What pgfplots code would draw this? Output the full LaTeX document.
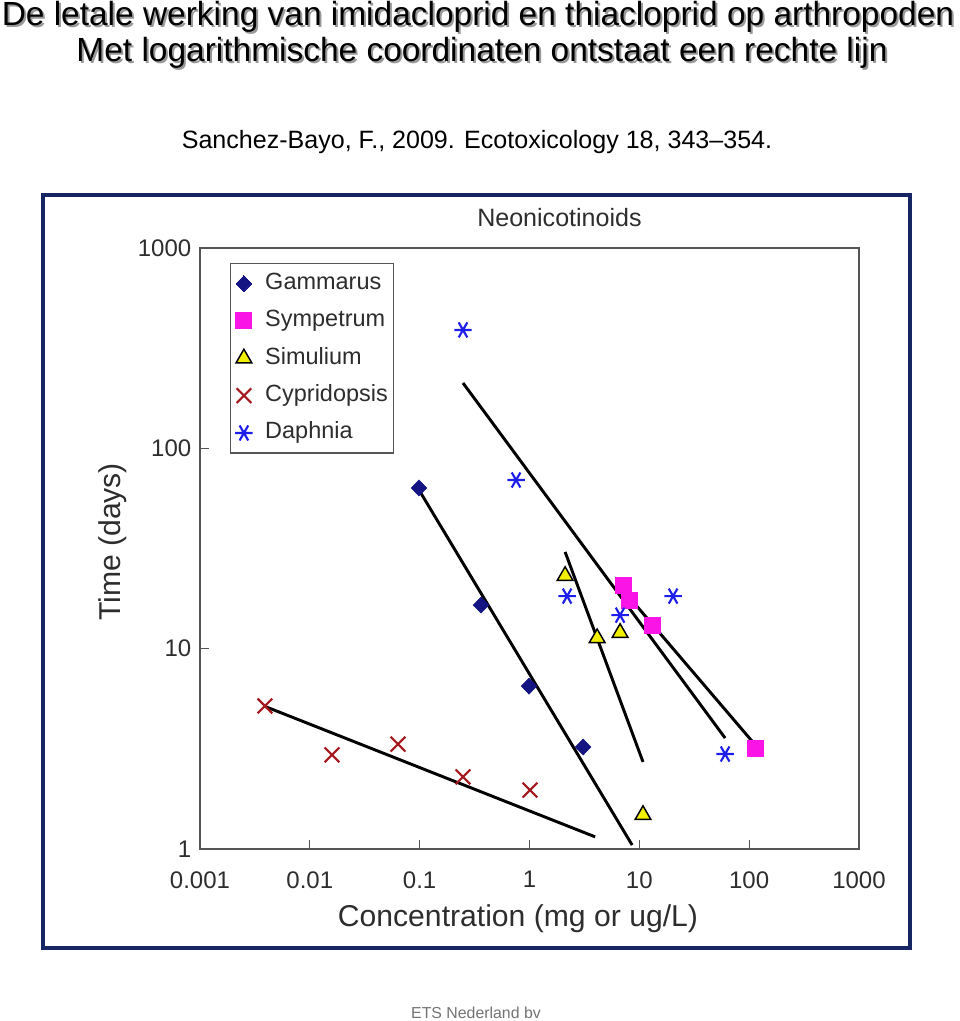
\documentclass[border=0pt]{standalone}
\usepackage{pgfplots}
\pgfplotsset{compat=1.18}
\usepackage{fontspec}
\setmainfont{Liberation Sans}
\definecolor{navybox}{RGB}{22,38,100}
\definecolor{gam}{RGB}{20,20,130}
\definecolor{sym}{RGB}{250,20,230}
\definecolor{sim}{RGB}{240,240,0}
\definecolor{cyp}{RGB}{165,25,30}
\definecolor{daph}{RGB}{30,30,235}
\definecolor{txt}{RGB}{45,45,45}
\definecolor{axgray}{RGB}{85,85,85}
\begin{document}
\begin{tikzpicture}
\path[use as bounding box] (0,0) rectangle (720pt,-765.75pt);
% titles with shadow
\foreach \dx/\dy/\col in {1.5pt/-1.5pt/black!40, 0pt/0pt/black}{
\node[anchor=base, text=\col, inner sep=0pt, font=\fontsize{25.1pt}{30pt}\selectfont] at ([xshift=\dx,yshift=\dy]478*0.75pt,-25*0.75pt) {De letale werking van imidacloprid en thiacloprid op arthropoden};
\node[anchor=base, text=\col, inner sep=0pt, font=\fontsize{25.1pt}{30pt}\selectfont] at ([xshift=\dx,yshift=\dy]482*0.75pt,-61*0.75pt) {Met logarithmische coordinaten ontstaat een rechte lijn};
}
\node[anchor=base, inner sep=0pt, font=\fontsize{18.8pt}{22pt}\selectfont] at (477*0.75pt,-148*0.75pt) {Sanchez-Bayo, F., 2009. Ecotoxicology 18, 343--354.};
\node[anchor=base, inner sep=0pt, text=black!55, font=\fontsize{11.9pt}{14pt}\selectfont] at (476*0.75pt,-1018*0.75pt) {ETS Nederland bv};
% blue frame
\draw[navybox, line width=2.3pt] (43*0.75pt,-195*0.75pt) rectangle (910*0.75pt,-948*0.75pt);
\begin{axis}[
  at={(200*0.75pt,-849*0.75pt)}, anchor=south west,
  scale only axis, width=494.25pt, height=450.75pt,
  xmode=log, ymode=log,
  xmin=0.001, xmax=1000, ymin=1, ymax=1000,
  xtick={0.001,0.01,0.1,1,10,100,1000},
  xticklabels={0.001,0.01,0.1,1,10,100,1000},
  ytick={1,10,100,1000},
  yticklabels={1,10,100,1000},
  xminorticks=false, yminorticks=false,
  xtick pos=bottom, ytick pos=left,
  tick align=inside, major tick length=7pt,
  tick style={axgray, line width=0.8pt},
  axis line style={axgray, line width=1.1pt},
  ticklabel style={text=txt, font=\fontsize{18pt}{21pt}\selectfont},
  xticklabel style={yshift=-13.25pt},
  yticklabel style={xshift=-3pt},
  xlabel={Concentration (mg or ug/L)},
  ylabel={Time (days)},
  label style={text=txt, font=\fontsize{22.6pt}{26pt}\selectfont},
  xlabel style={at={(axis description cs:0.4825,0)}, anchor=center, yshift=-52.5pt},
  ylabel style={at={(axis description cs:-0.132,0.511)}, anchor=center},
  title={Neonicotinoids},
  title style={at={(axis description cs:0.5455,1)}, anchor=center, yshift=16.5pt, text=txt, font=\fontsize{18.8pt}{22pt}\selectfont},
  legend style={at={(axis description cs:0.0455,0.975)}, anchor=north west,
    draw=axgray, line width=0.9pt, text=txt, font=\fontsize{17.6pt}{20pt}\selectfont,
    inner xsep=2pt, inner ysep=1pt,
    nodes={text height=12.5pt, text depth=3.5pt, inner ysep=6pt}},
  legend cell align=left,
  legend image code/.code={\path[draw=none, fill=none] (-8pt,0pt) -- (14pt,0pt); \draw[#1, line width=0pt] plot coordinates {(0pt,0pt)};},
  clip=false,
]
\addplot[only marks, mark=diamond*, mark size=6pt, mark options={xscale=1.3, draw=gam, fill=gam}]
  coordinates {(0.0986,63.4) (0.362,16.5) (0.99,6.5) (3.08,3.23)};
\addlegendentry{Gammarus}
\addplot[only marks, mark=square*, mark size=6pt, mark options={draw=sym, fill=sym}]
  coordinates {(7.12,20.8) (8.07,17.5) (13.1,13.1) (113.5,3.19)};
\addlegendentry{Sympetrum}
\addplot[only marks, mark=triangle*, mark size=6.8pt, mark options={draw=black, fill=sim, line width=1.1pt}]
  coordinates {(2.11,23.1) (4.13,11.3) (6.68,12.0) (10.8,1.48)};
\addlegendentry{Simulium}
\addplot[only marks, mark=x, mark size=7.8pt, mark options={draw=cyp, line width=1.6pt}]
  coordinates {(0.0039,5.18) (0.0159,2.95) (0.0635,3.34) (0.248,2.29) (1.01,1.97)};
\addlegendentry{Cypridopsis}
\addplot[only marks, mark=asterisk, mark size=6.5pt, mark options={draw=daph, line width=1.6pt, rotate=90}]
  coordinates {(0.248,390) (0.755,69.5) (2.20,18.3) (6.68,14.7) (20.3,18.3) (60.4,2.98)};
\addlegendentry{Daphnia}
% regression lines
\addplot[forget plot, black, line width=2.2pt] coordinates {(0.248,212) (60.4,3.58)};
\addplot[forget plot, black, line width=2.2pt] coordinates {(7.12,19.6) (113.5,3.31)};
\addplot[forget plot, black, line width=2.2pt] coordinates {(2.11,30.4) (10.8,2.72)};
\addplot[forget plot, black, line width=2.2pt] coordinates {(0.0986,62) (8.6,1.047)};
\addplot[forget plot, black, line width=2.2pt] coordinates {(0.0039,5.15) (3.96,1.15)};
\end{axis}
\end{tikzpicture}
\end{document}
